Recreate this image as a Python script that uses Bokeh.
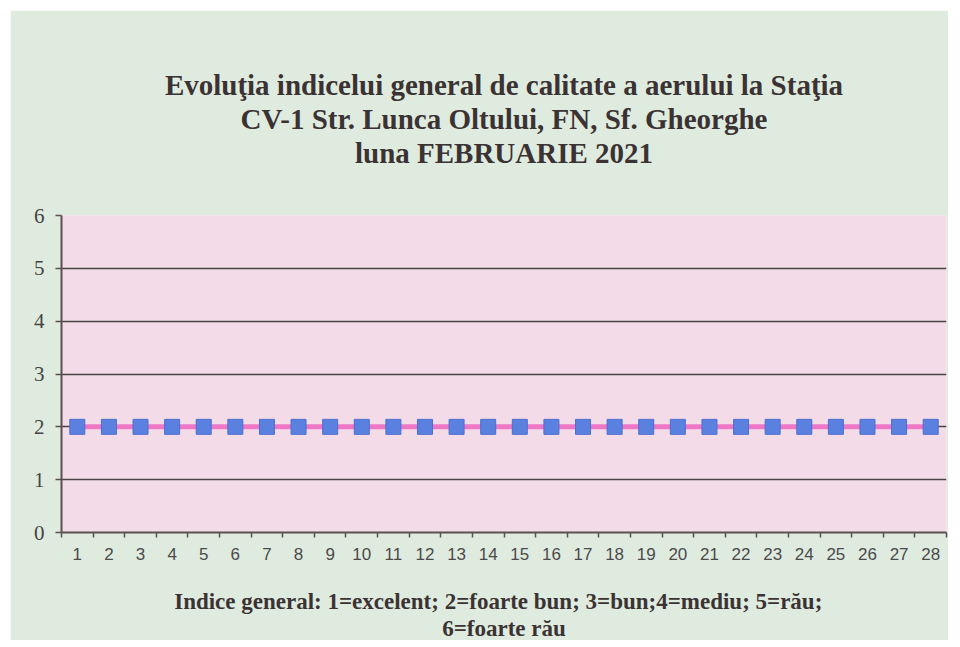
from bokeh.plotting import figure
from bokeh.models import Title, FixedTicker, Range1d
from bokeh.embed import file_html
from bokeh.resources import INLINE

days = list(range(1, 29))
index_values = [2] * 28
y_ticks = [0, 1, 2, 3, 4, 5, 6]
title_lines = [
    "Evoluţia indicelui general de calitate a aerului la Staţia",
    "CV-1 Str. Lunca Oltului, FN, Sf. Gheorghe",
    "luna FEBRUARIE 2021",
]
note_lines = [
    "Indice general: 1=excelent; 2=foarte bun;  3=bun;4=mediu;  5=rău;",
    "6=foarte rău",
]

BG = "#e0ebe0"

p = figure(width=938, height=630, output_backend="svg", toolbar_location=None,
           x_range=Range1d(0.5, 28.5), y_range=Range1d(0, 6),
           min_border_left=51, min_border_right=2, min_border_top=205, min_border_bottom=0)
p.margin = (10, 0, 0, 10)

p.background_fill_color = "#f3dce7"
p.border_fill_color = BG
p.outline_line_color = None


def spacer(size):
    return Title(text="-", text_font_size=size, text_color=BG, standoff=0, align="center")


# titles (first added is nearest the plot)
p.add_layout(spacer("64px"), "above")
for line in reversed(title_lines):
    t = Title(text=line, align="center", text_font="Liberation Serif",
              text_font_size="29px", text_font_style="bold", text_color="#3b3333",
              standoff=0, offset=6)
    p.add_layout(t, "above")

p.line(days, index_values, line_color="#ee77c8", line_width=5)
p.scatter(days, index_values, marker="square", size=15, fill_color="#5a80e0",
          line_color="#4c6fd0", line_width=1)

p.xaxis.ticker = FixedTicker(ticks=days, minor_ticks=[d - 0.5 for d in days] + [28.5])
p.xaxis.major_tick_out = 0
p.xaxis.major_tick_in = 0
p.xaxis.minor_tick_out = 5
p.xaxis.minor_tick_in = 0
p.xaxis.major_label_text_font = "Liberation Sans"
p.xaxis.major_label_text_font_size = "17px"
p.xaxis.major_label_text_color = "#4a4a4a"
p.xaxis.major_label_standoff = 10

p.yaxis.ticker = FixedTicker(ticks=y_ticks)
p.yaxis.minor_tick_line_color = None
p.yaxis.major_tick_out = 6
p.yaxis.major_tick_in = 0
p.yaxis.major_label_text_font = "Liberation Serif"
p.yaxis.major_label_text_font_size = "21px"
p.yaxis.major_label_text_color = "#444444"
p.yaxis.major_label_standoff = 11

for ax in (p.xaxis[0], p.yaxis[0]):
    ax.axis_line_color = "#5a5050"
    ax.axis_line_width = 2
    ax.major_tick_line_color = "#5a5050"
    ax.major_tick_line_width = 1.5
    ax.minor_tick_line_width = 1.5
p.xaxis.minor_tick_line_color = "#5a5050"

p.xgrid.grid_line_color = None
p.ygrid.ticker = FixedTicker(ticks=y_ticks)
p.ygrid.grid_line_color = "#4a4545"
p.ygrid.grid_line_width = 1.5

p.add_layout(spacer("31px"), "below")
for line in note_lines:
    t = Title(text=line, align="center", text_font="Liberation Serif",
              text_font_size="23px", text_font_style="bold", text_color="#3b3333",
              standoff=0, offset=6)
    p.add_layout(t, "below")

open("out.html", "w").write(file_html(p, INLINE))
